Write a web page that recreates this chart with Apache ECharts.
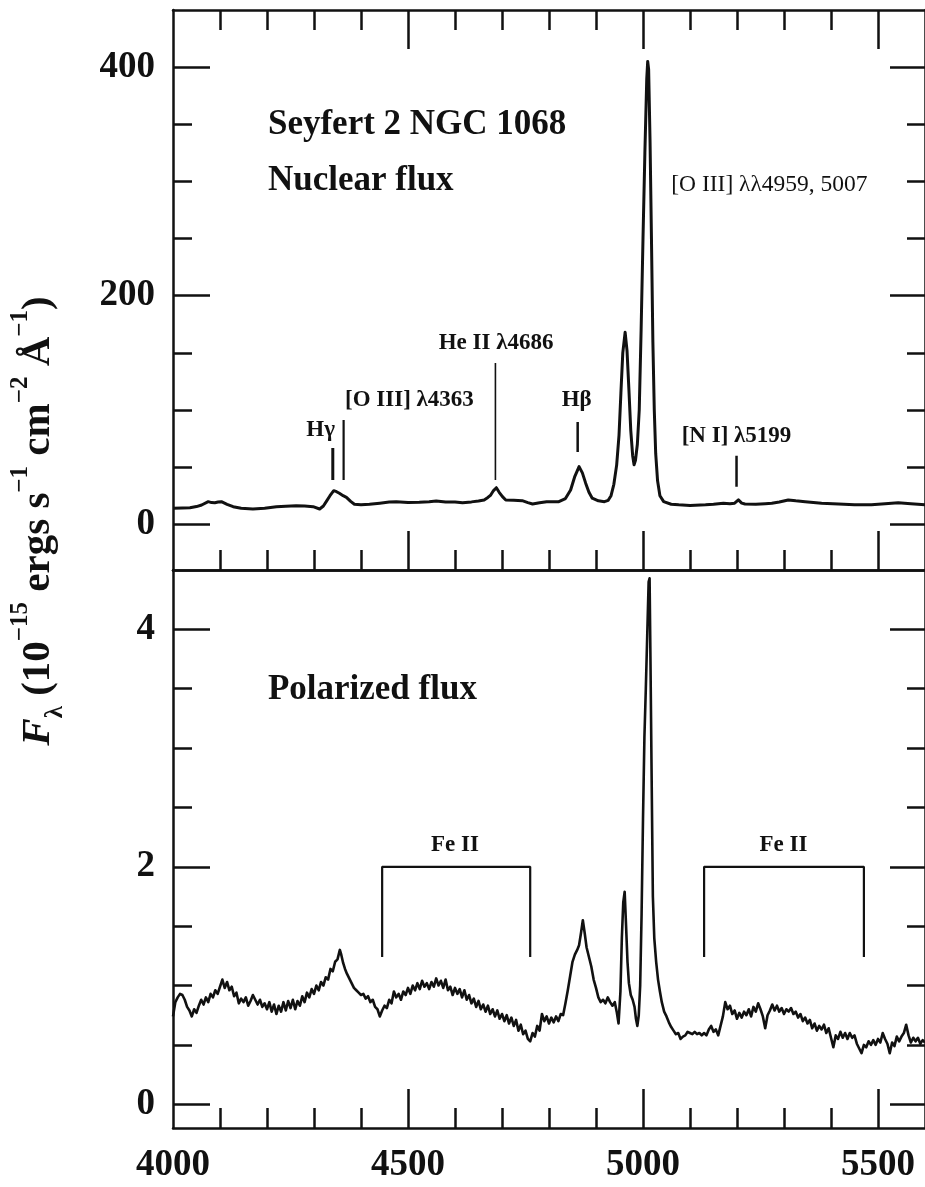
<!DOCTYPE html>
<html>
<head>
<meta charset="utf-8">
<script src="https://cdn.jsdelivr.net/npm/echarts@6.0.0/dist/echarts.min.js"></script>
<style>
  html, body { margin: 0; padding: 0; background: #ffffff; }
  #chart { width: 925px; height: 1187px; }
</style>
</head>
<body>
<div id="chart"></div>
<script>
// ---------- Spectra (wavelength in Å, flux in 1e-15 erg s^-1 cm^-2 Å^-1) ----------
const nuclearWave = [
  4000, 4020, 4036, 4050, 4061, 4075, 4082, 4089, 4096, 4103, 4115, 4128, 4145, 4170, 4195,
  4220, 4240, 4262, 4280, 4298, 4312, 4320, 4326, 4334, 4342, 4348, 4354, 4362, 4369, 4378,
  4386, 4400, 4418, 4440, 4460, 4475, 4500, 4524, 4545, 4560, 4580, 4600, 4616, 4635, 4650,
  4662, 4670, 4676, 4682, 4688, 4694, 4701, 4708, 4725, 4743, 4755, 4765, 4780, 4795, 4807,
  4821, 4835, 4846, 4855, 4864, 4871, 4878, 4885, 4892, 4905, 4918, 4926, 4932, 4938, 4944,
  4949, 4953, 4957, 4962, 4966, 4970, 4974, 4978, 4981, 4984, 4988, 4992, 4996, 5000, 5004,
  5008, 5010, 5012, 5015, 5018, 5021, 5024, 5027, 5031, 5036, 5044, 5060, 5076, 5100, 5133,
  5150, 5171, 5185, 5195, 5203, 5210, 5217, 5240, 5260, 5274, 5290, 5309, 5325, 5345, 5380,
  5416, 5450, 5486, 5515, 5543, 5570, 5600
];
const nuclearFlux = [
  14.0, 14.3, 14.5, 15.5, 16.9, 19.8, 19.0, 18.9, 19.5, 19.8, 17.5, 15.4, 14.0, 13.4, 14.0,
  15.4, 15.8, 16.3, 16.0, 15.4, 13.4, 16.0, 19.8, 25.0, 29.4, 28.5, 27.1, 25.0, 23.6, 20.0,
  17.5, 17.2, 17.5, 18.5, 19.5, 19.8, 19.0, 19.3, 19.8, 20.4, 19.5, 19.5, 18.9, 19.6, 20.4,
  21.3, 23.5, 25.6, 29.5, 32.0, 28.0, 24.2, 21.3, 21.0, 20.7, 19.0, 17.8, 18.8, 19.8, 19.8,
  19.8, 22.5, 30.0, 42.0, 50.5, 45.0, 36.0, 28.0, 22.8, 20.5, 19.8, 21.0, 25.0, 35.0, 52.0,
  78.0, 115, 150, 168, 152, 118, 82, 60, 52, 56, 70, 100, 170, 250, 325,
  390, 405, 398, 335, 250, 160, 100, 62, 38, 25, 19.8, 17.5, 17.0, 16.5, 17.0,
  17.5, 18.4, 18.0, 18.5, 21.3, 18.5, 17.8, 17.5, 18.0, 18.4, 19.5, 21.3, 20.5, 19.8, 18.5,
  17.8, 17.0, 17.0, 18.0, 18.9, 18.0, 17.0
];

const polarizedWave = [
  4000, 4005, 4010, 4015, 4020, 4025, 4030, 4035, 4040, 4045, 4050, 4055, 4060, 4065, 4070, 4075, 4080, 4085, 4090, 4095,
  4100, 4105, 4110, 4115, 4120, 4125, 4130, 4135, 4140, 4145, 4150, 4155, 4160, 4165, 4170, 4175, 4180, 4185, 4190, 4195,
  4200, 4205, 4210, 4215, 4220, 4225, 4230, 4235, 4240, 4245, 4250, 4255, 4260, 4265, 4270, 4275, 4280, 4285, 4290, 4295,
  4300, 4305, 4310, 4315, 4320, 4325, 4330, 4335, 4340, 4345, 4350, 4355, 4358, 4362, 4366, 4370, 4375, 4380, 4385, 4390, 4395,
  4400, 4405, 4410, 4415, 4420, 4425, 4430, 4435, 4440, 4445, 4450, 4455, 4460, 4465, 4470, 4475, 4480, 4485, 4490, 4495,
  4500, 4505, 4510, 4515, 4520, 4525, 4530, 4535, 4540, 4545, 4550, 4555, 4560, 4565, 4570, 4575, 4580, 4585, 4590, 4595,
  4600, 4605, 4610, 4615, 4620, 4625, 4630, 4635, 4640, 4645, 4650, 4655, 4660, 4665, 4670, 4675, 4680, 4685, 4690, 4695,
  4700, 4705, 4710, 4715, 4720, 4725, 4730, 4735, 4740, 4745, 4750, 4755, 4760, 4765, 4770, 4775, 4780, 4785, 4790, 4795,
  4800, 4805, 4810, 4815, 4820, 4825, 4830, 4835, 4840, 4845, 4850, 4855, 4860, 4864, 4868, 4872, 4876, 4880, 4885, 4890, 4895,
  4900, 4905, 4910, 4915, 4920, 4925, 4930, 4935, 4940, 4944, 4948, 4952, 4955, 4958, 4961, 4964, 4967, 4970, 4974, 4978,
  4982, 4985, 4988, 4991, 4994, 4997, 5000, 5003, 5006, 5009, 5012, 5014, 5016, 5018, 5021, 5024, 5028, 5032, 5036, 5040,
  5045, 5050, 5055, 5060, 5065, 5070, 5075, 5080, 5085, 5090, 5095,
  5100, 5105, 5110, 5115, 5120, 5125, 5130, 5135, 5140, 5145, 5150, 5155, 5160, 5165, 5170, 5175, 5180, 5185, 5190, 5195,
  5200, 5205, 5210, 5215, 5220, 5225, 5230, 5235, 5240, 5245, 5250, 5255, 5260, 5265, 5270, 5275, 5280, 5285, 5290, 5295,
  5300, 5305, 5310, 5315, 5320, 5325, 5330, 5335, 5340, 5345, 5350, 5355, 5360, 5365, 5370, 5375, 5380, 5385, 5390, 5395,
  5400, 5405, 5410, 5415, 5420, 5425, 5430, 5435, 5440, 5445, 5450, 5455, 5460, 5465, 5470, 5475, 5480, 5485, 5490, 5495,
  5500, 5505, 5510, 5515, 5520, 5525, 5530, 5535, 5540, 5545, 5550, 5555, 5560, 5565, 5570, 5575, 5580, 5585, 5590, 5595,
  5600
];
const polarizedFlux = [
  0.74, 0.86, 0.90, 0.93, 0.92, 0.88, 0.82, 0.79, 0.74, 0.80, 0.77, 0.83, 0.88, 0.84, 0.90, 0.86, 0.93, 0.90, 0.96, 0.93,
  0.99, 1.05, 0.98, 1.03, 0.96, 0.99, 0.91, 0.94, 0.85, 0.89, 0.86, 0.90, 0.83, 0.87, 0.92, 0.88, 0.84, 0.88, 0.82, 0.85,
  0.80, 0.86, 0.78, 0.84, 0.76, 0.83, 0.78, 0.86, 0.79, 0.87, 0.81, 0.88, 0.80, 0.87, 0.83, 0.91, 0.86, 0.94, 0.90, 0.97,
  0.93, 1.00, 0.96, 1.03, 1.00, 1.07, 1.05, 1.14, 1.12, 1.20, 1.22, 1.30, 1.26, 1.19, 1.14, 1.10, 1.06, 1.02, 0.98, 0.96, 0.94,
  0.92, 0.93, 0.89, 0.91, 0.86, 0.88, 0.82, 0.80, 0.74, 0.79, 0.83, 0.81, 0.88, 0.85, 0.95, 0.90, 0.93, 0.88, 0.95, 0.92,
  0.98, 0.93, 1.00, 0.96, 1.02, 0.97, 1.04, 0.99, 1.02, 0.97, 1.03, 0.99, 1.06, 1.00, 1.04, 0.98, 1.05, 0.96, 0.99, 0.92,
  0.98, 0.93, 0.97, 0.90, 0.96, 0.88, 0.92, 0.85, 0.89, 0.82, 0.87, 0.80, 0.84, 0.78, 0.83, 0.76, 0.80, 0.74, 0.79, 0.72,
  0.76, 0.70, 0.75, 0.68, 0.73, 0.66, 0.71, 0.62, 0.67, 0.59, 0.62, 0.55, 0.53, 0.60, 0.57, 0.66, 0.62, 0.76, 0.70, 0.74,
  0.68, 0.73, 0.69, 0.74, 0.70, 0.76, 0.75, 0.85, 0.96, 1.08, 1.20, 1.26, 1.30, 1.34, 1.44, 1.55, 1.44, 1.32, 1.24, 1.16, 1.05,
  0.98, 0.90, 0.86, 0.88, 0.85, 0.90, 0.86, 0.83, 0.86, 0.78, 0.68, 0.95, 1.40, 1.70, 1.79, 1.50, 1.20, 1.02, 0.92, 0.88,
  0.82, 0.72, 0.66, 0.75, 1.00, 1.60, 2.40, 3.09, 3.50, 3.95, 4.40, 4.43, 3.70, 2.90, 1.75, 1.40, 1.20, 1.05, 0.95, 0.86,
  0.78, 0.74, 0.69, 0.65, 0.62, 0.59, 0.60, 0.55, 0.57, 0.58, 0.61,
  0.60, 0.59, 0.61, 0.59, 0.60, 0.58, 0.60, 0.58, 0.63, 0.66, 0.61, 0.63, 0.58, 0.66, 0.74, 0.86, 0.80, 0.83, 0.76, 0.79,
  0.72, 0.77, 0.73, 0.78, 0.75, 0.80, 0.74, 0.82, 0.78, 0.85, 0.80, 0.74, 0.64, 0.75, 0.79, 0.84, 0.79, 0.83, 0.78, 0.81,
  0.76, 0.80, 0.78, 0.81, 0.76, 0.78, 0.73, 0.76, 0.70, 0.73, 0.68, 0.71, 0.64, 0.68, 0.62, 0.66, 0.63, 0.67, 0.60, 0.64,
  0.56, 0.48, 0.58, 0.55, 0.61, 0.56, 0.60, 0.55, 0.60, 0.56, 0.58, 0.51, 0.47, 0.43, 0.50, 0.48, 0.53, 0.50, 0.54, 0.50,
  0.55, 0.52, 0.60, 0.55, 0.51, 0.43, 0.52, 0.49, 0.57, 0.53, 0.57, 0.60, 0.67, 0.58, 0.52, 0.56, 0.53, 0.56, 0.51, 0.54,
  0.52
];

// ---------- Axis ticks ----------
const waveMajorTicks = [4000, 4500, 5000, 5500];
const waveMinorTicks = [4100, 4200, 4300, 4400, 4600, 4700, 4800, 4900, 5100, 5200, 5300, 5400];
const nuclearMajorTicks = [0, 200, 400];
const nuclearMinorTicks = [50, 100, 150, 250, 300, 350];
const polarizedMajorTicks = [0, 2, 4];
const polarizedMinorTicks = [0.5, 1, 1.5, 2.5, 3, 3.5];
const waveRange = [4000, 5600];
const nuclearRange = [-40, 450];
const polarizedRange = [-0.2, 4.5];

// ---------- Line identifications (wavelength, flux extent of the marker) ----------
const markerWave = [4340, 4363, 4686, 4861, 5199];
const markerFrom = [38.75, 38.75, 38.75, 63.25, 32.9];
const markerTo = [66.75, 91.25, 141.1, 89.5, 60.0];

// Fe II blends in polarized flux: wavelength span and bracket heights
const feIIBands = [[4445, 4760], [5130, 5470]];
const feIILeg = 1.24;
const feIITop = 2.0;

// Text labels: [text, wavelength, flux]
const nuclearNotes = [
  ['Seyfert 2 NGC 1068', 4202, 349.4],
  ['Nuclear flux', 4202, 300],
  ['He II λ4686', 4687.5, 158.6],
  ['[O III] λ4363', 4503, 108.75],
  ['Hγ', 4314, 82.5],
  ['Hβ', 4859, 108.75],
  ['[N I] λ5199', 5199, 77.25],
  ['[O III] λλ4959, 5007', 5269, 297]
];
const polarizedNotes = [
  ['Polarized flux', 4202, 3.49],
  ['Fe II', 4600, 2.18],
  ['Fe II', 5299, 2.18]
];

// ---------- Styling helpers ----------
const FONT = '"Liberation Serif", "Times New Roman", Times, serif';
const INK = '#111111';
const frameW = 2.5;

function xAxis(grid, pos, ticks, len, opts) {
  opts = opts || {};
  return {
    type: 'value', gridIndex: grid, position: pos,
    min: waveRange[0], max: waveRange[1],
    axisLine: { show: !!opts.line, onZero: false, lineStyle: { color: INK, width: frameW } },
    axisTick: { show: ticks.length > 0, inside: true, length: len, customValues: ticks,
                lineStyle: { color: INK, width: 2.5 } },
    axisLabel: opts.labels ? {
      show: true, customValues: waveMajorTicks, margin: 19,
      fontFamily: FONT, fontWeight: 'bold', fontSize: 37, color: INK,
      formatter: v => String(v)
    } : { show: false },
    splitLine: { show: false }
  };
}
function yAxis(grid, pos, range, ticks, len, opts) {
  opts = opts || {};
  return {
    type: 'value', gridIndex: grid, position: pos,
    min: range[0], max: range[1],
    axisLine: { show: !!opts.line, onZero: false, lineStyle: { color: INK, width: frameW } },
    axisTick: { show: true, inside: true, length: len, customValues: ticks,
                lineStyle: { color: INK, width: 2.5 } },
    axisLabel: opts.labels ? {
      show: true, customValues: opts.labels, margin: 18,
      fontFamily: FONT, fontWeight: 'bold', fontSize: 37, color: INK,
      formatter: v => String(v)
    } : { show: false },
    splitLine: { show: false }
  };
}

const zip = (a, b) => a.map((v, i) => [v, b[i]]);

const series = [
  {
    name: 'Nuclear flux', type: 'line', xAxisIndex: 0, yAxisIndex: 0,
    data: zip(nuclearWave, nuclearFlux), showSymbol: false, symbol: 'none',
    lineStyle: { color: INK, width: 3, join: 'round' }, animation: false, z: 5
  },
  {
    name: 'Polarized flux', type: 'line', xAxisIndex: 4, yAxisIndex: 4,
    data: zip(polarizedWave, polarizedFlux), showSymbol: false, symbol: 'none',
    lineStyle: { color: INK, width: 2.6, join: 'round' }, animation: false, z: 5
  }
];
const markerWidths = [3, 2.2, 1.6, 2.5, 2.5];
markerWave.forEach((w, i) => {
  series.push({
    type: 'line', xAxisIndex: 0, yAxisIndex: 0, symbol: 'none', animation: false,
    data: [[w, markerFrom[i]], [w, markerTo[i]]],
    lineStyle: { color: INK, width: markerWidths[i] }
  });
});
feIIBands.forEach(b => {
  series.push({
    type: 'line', xAxisIndex: 4, yAxisIndex: 4, symbol: 'none', animation: false,
    data: [[b[0], feIILeg], [b[0], feIITop], [b[1], feIITop], [b[1], feIILeg]],
    lineStyle: { color: INK, width: 2.2 }
  });
});

const option = {
  backgroundColor: '#ffffff',
  animation: false,
  grid: [
    { left: 173, top: 10, width: 754, height: 560 },
    { left: 173, top: 570, width: 754, height: 558 }
  ],
  xAxis: [
    xAxis(0, 'bottom', waveMajorTicks.slice(1), 39, { line: true }), // 0
    xAxis(0, 'bottom', waveMinorTicks, 20),                          // 1
    xAxis(0, 'top', waveMajorTicks.slice(1), 39, { line: true }),    // 2
    xAxis(0, 'top', waveMinorTicks, 20),                             // 3
    xAxis(1, 'bottom', waveMajorTicks.slice(1), 39, { line: true, labels: true }), // 4
    xAxis(1, 'bottom', waveMinorTicks, 20),                          // 5
    xAxis(1, 'top', [], 0, { line: true })                           // 6
  ],
  yAxis: [
    yAxis(0, 'left', nuclearRange, nuclearMajorTicks, 37, { line: true, labels: nuclearMajorTicks }), // 0
    yAxis(0, 'left', nuclearRange, nuclearMinorTicks, 19),          // 1
    yAxis(0, 'right', nuclearRange, nuclearMajorTicks, 35, { line: true }), // 2
    yAxis(0, 'right', nuclearRange, nuclearMinorTicks, 18),         // 3
    yAxis(1, 'left', polarizedRange, polarizedMajorTicks, 37, { line: true, labels: polarizedMajorTicks }), // 4
    yAxis(1, 'left', polarizedRange, polarizedMinorTicks, 19),      // 5
    yAxis(1, 'right', polarizedRange, polarizedMajorTicks, 35, { line: true }), // 6
    yAxis(1, 'right', polarizedRange, polarizedMinorTicks, 18)      // 7
  ],
  series: series
};

const chart = echarts.init(document.getElementById('chart'), null, { renderer: 'canvas' });
chart.setOption(option);

// ---------- Text annotations placed through the axis scales ----------
const bigNotes = ['Seyfert 2 NGC 1068', 'Nuclear flux', 'Polarized flux'];
const graphics = [];
function addNotes(notes, finder) {
  notes.forEach(n => {
    const p = chart.convertToPixel(finder, [n[1], n[2]]);
    const big = bigNotes.indexOf(n[0]) >= 0;
    const regular = n[0].indexOf('λλ') >= 0;
    const align = big ? 'left' : 'center';
    graphics.push({
      type: 'text', x: p[0], y: p[1], z: 10, silent: true,
      style: {
        text: n[0], fontFamily: FONT,
        fontWeight: regular ? 'normal' : 'bold',
        fontSize: big ? 35 : (regular ? 23.5 : 23),
        fill: INK,
        align: align, textAlign: align,
        verticalAlign: 'middle', textVerticalAlign: 'middle'
      }
    });
  });
}
addNotes(nuclearNotes, { xAxisIndex: 0, yAxisIndex: 0 });
addNotes(polarizedNotes, { xAxisIndex: 4, yAxisIndex: 4 });

// Shared vertical axis title
graphics.push({
  type: 'text', x: 38, y: 521, rotation: Math.PI / 2, silent: true,
  style: {
    text: '{f|F}{sub|λ}{n| (10}{sup|−15}{n| ergs s}{sup|−1}{n| cm}{sup|−2}{n| Å}{sup|−1}{n|)}',
    align: 'center', verticalAlign: 'middle',
    textAlign: 'center', textVerticalAlign: 'middle',
    fill: INK,
    rich: {
      f: { fontFamily: FONT, fontStyle: 'italic', fontWeight: 'bold', fontSize: 41, lineHeight: 60, verticalAlign: 'middle', fill: INK },
      n: { fontFamily: FONT, fontWeight: 'bold', fontSize: 41, lineHeight: 60, verticalAlign: 'middle', fill: INK },
      sup: { fontFamily: FONT, fontWeight: 'bold', fontSize: 25, lineHeight: 26, verticalAlign: 'top', fill: INK },
      sub: { fontFamily: FONT, fontWeight: 'bold', fontSize: 25, lineHeight: 26, verticalAlign: 'bottom', fill: INK }
    }
  }
});

chart.setOption({ graphic: { elements: graphics } });
</script>
</body>
</html>
